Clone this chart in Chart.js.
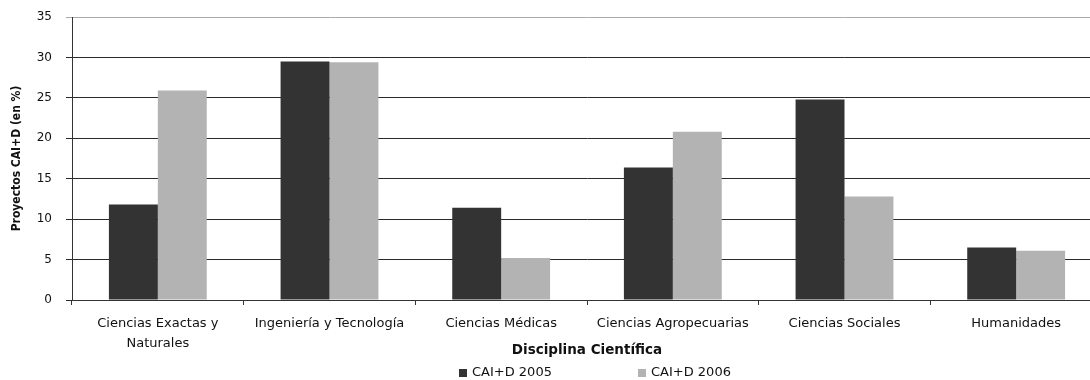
<!DOCTYPE html>
<html>
<head>
<meta charset="utf-8">
<script src="https://cdn.jsdelivr.net/npm/chart.js@4"></script>
<style>
html,body{margin:0;padding:0;background:#fff;overflow:hidden;}
#wrap{width:1102px;height:380px;}
</style>
</head>
<body>
<div id="wrap"><canvas id="c" width="1102" height="380"></canvas></div>
<script>
const categories = [
  ["Ciencias Exactas y", "Naturales"],
  "Ingeniería y Tecnología",
  "Ciencias Médicas",
  "Ciencias Agropecuarias",
  "Ciencias Sociales",
  "Humanidades"
];
const seriesNames = ["CAI+D 2005", "CAI+D 2006"];
const values2005 = [11.8, 29.5, 11.4, 16.4, 24.8, 6.5];
const values2006 = [25.9, 29.4, 5.2, 20.8, 12.8, 6.1];
const yTicks = [0, 5, 10, 15, 20, 25, 30, 35];
const xTitle = "Disciplina Científica";
const yTitle = "Proyectos CAI+D (en %)";

const FONT = "'DejaVu Sans', sans-serif";
const FONT_COND = "'DejaVu Sans Condensed', 'DejaVu Sans', sans-serif";

const legendPlugin = {
  id: 'customLegend',
  afterDraw(chart) {
    const ctx = chart.ctx;
    const area = chart.chartArea;
    const cx = (area.left + area.right) / 2;
    const startX = cx - 128;
    const gap = 179;
    const y = 373;
    ctx.save();
    ctx.font = "13px " + FONT;
    ctx.textBaseline = 'middle';
    ctx.textAlign = 'left';
    chart.data.datasets.forEach((ds, i) => {
      const x = startX + i * gap;
      ctx.fillStyle = ds.backgroundColor;
      ctx.fillRect(x, y - 4, 8, 8);
      ctx.fillStyle = '#111';
      ctx.fillText(ds.label, x + 13, y);
    });
    ctx.restore();
  }
};

new Chart(document.getElementById('c'), {
  type: 'bar',
  data: {
    labels: categories,
    datasets: [
      { label: seriesNames[0], data: values2005, backgroundColor: '#333333', borderWidth: 0 },
      { label: seriesNames[1], data: values2006, backgroundColor: '#b3b3b3', borderWidth: 0 }
    ]
  },
  options: {
    responsive: false,
    animation: false,
    devicePixelRatio: 1,
    layout: { padding: { top: 17, right: 0, bottom: 20, left: 0 } },
    datasets: { bar: { categoryPercentage: 0.57, barPercentage: 1.0 } },
    plugins: {
      legend: { display: false },
      tooltip: { enabled: false }
    },
    scales: {
      x: {
        offset: true,
        afterFit(scale) { scale.height = 60; scale.paddingLeft = 0; scale.paddingRight = 0; },
        grid: {
          display: true,
          drawOnChartArea: false,
          offset: true,
          tickLength: 5,
          color: '#333'
        },
        border: { display: true, color: '#333', width: 1 },
        ticks: {
          color: '#111',
          font: { family: FONT, size: 13, lineHeight: 1.5 },
          padding: 9,
          maxRotation: 0,
          autoSkip: false
        },
        title: {
          display: true,
          text: xTitle,
          color: '#111',
          font: { family: FONT, size: 13.5, weight: 'bold' },
          padding: { top: 0, bottom: 1 }
        }
      },
      y: {
        min: 0,
        max: 35,
        afterFit(scale) { scale.width = 72; scale.paddingTop = 0; scale.paddingBottom = 0; },
        afterBuildTicks(scale) { scale.ticks = yTicks.map(v => ({ value: v })); },
        grid: {
          color: (c) => (c.tick && c.tick.value === 35 ? '#aaaaaa' : '#2a2a2a'),
          tickLength: 6,
          lineWidth: 1
        },
        border: { display: true, color: '#333', width: 1 },
        ticks: {
          color: '#111',
          font: { family: FONT, size: 12 },
          padding: 14
        },
        title: {
          display: true,
          text: yTitle,
          color: '#111',
          font: { family: FONT_COND, size: 12, weight: 'bold' },
          padding: { top: 10, bottom: 0 }
        }
      }
    }
  },
  plugins: [legendPlugin]
});
</script>
</body>
</html>
